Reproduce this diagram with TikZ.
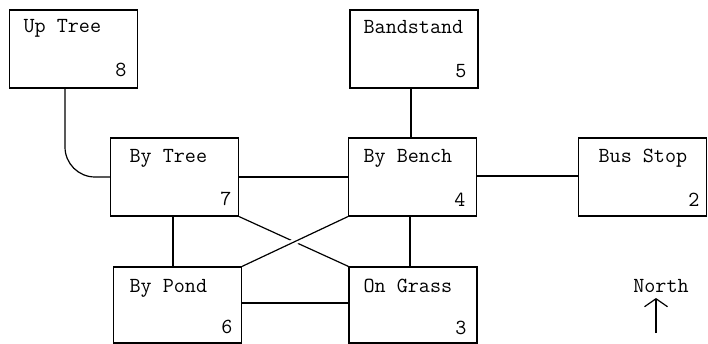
\documentclass[tikz,border=0pt]{standalone}
\usepackage{fontspec}
\usetikzlibrary{arrows.meta}
\begin{document}
\begin{tikzpicture}[x=1pt,y=-1pt,
  line width=1.2pt,
  box/.style={draw, rectangle, inner sep=0pt, minimum width=128pt, minimum height=78pt},
  lowbox/.style={box, minimum height=76pt},
  lbl/.style={inner sep=0pt, anchor=base west, font=\ttfamily\fontsize{21.5}{24}\selectfont},
  num/.style={inner sep=0pt, anchor=base east, font=\ttfamily\fontsize{21.5}{24}\selectfont},
  gapline/.style={preaction={draw=white, line width=6pt}}]
\useasboundingbox (0,0) rectangle (708,344);
% boxes
\node[box] (uptree)    at (73.5,49)  {};
\node[box] (bandstand) at (414,49)   {};
\node[box] (bytree)    at (174.5,177) {};
\node[box] (bybench)   at (412.5,177) {};
\node[box] (busstop)   at (642.5,177) {};
\node[lowbox] (bypond)  at (177.5,305) {};
\node[lowbox] (ongrass) at (413,305)   {};
% labels
\node[lbl] (tUp)   at (23,33)   {Up Tree};
\node[lbl] (tBand) at (363,34)  {Bandstand};
\node[lbl] (tByT)  at (129,163) {By Tree};
\node[lbl] (tByB)  at (363,163) {By Bench};
\node[lbl] (tBus)  at (598,163) {Bus Stop};
\node[lbl] (tPond) at (129,292) {By Pond};
\node[lbl] (tGr)   at (363,292) {On Grass};
% numbers
\node[num] (n8) at (127,77)  {8};
\node[num] (n5) at (467,78)  {5};
\node[num] (n7) at (232,206) {7};
\node[num] (n4) at (466,207) {4};
\node[num] (n2) at (700,207) {2};
\node[num] (n6) at (233,333) {6};
\node[num] (n3) at (467,334) {3};
% connectors
\draw[rounded corners=30pt] ([xshift=-8.5pt]uptree.south) |- (bytree.west);
\draw ([xshift=-3pt]bandstand.south) -- ([xshift=-3pt]bandstand.south |- bybench.north);
\draw (bytree.east) -- (bybench.west);
\draw ([yshift=1pt]bybench.east) -- ([yshift=1pt]bybench.east -| busstop.west);
\draw ([xshift=-1.5pt]bytree.south) -- ([xshift=-1.5pt]bytree.south |- bypond.north);
\draw ([xshift=-2.5pt]bybench.south) -- ([xshift=-2.5pt]bybench.south |- ongrass.north);
\draw ([yshift=2pt]bypond.east) -- ([yshift=2pt]bypond.east -| ongrass.west);
\draw (bytree.south east) -- (ongrass.north west);
\draw[gapline] (bybench.south west) -- (bypond.north east);
% north arrow
\node[inner sep=0pt, anchor=base, font=\ttfamily\fontsize{21.5}{24}\selectfont] (north) at (661,292) {North};
\coordinate (ntail) at (656,333);
\coordinate (ntip) at (656,298);
\draw[-{Straight Barb[length=8pt,width=23pt]}] (ntail) -- (ntip);
\end{tikzpicture}
\end{document}
